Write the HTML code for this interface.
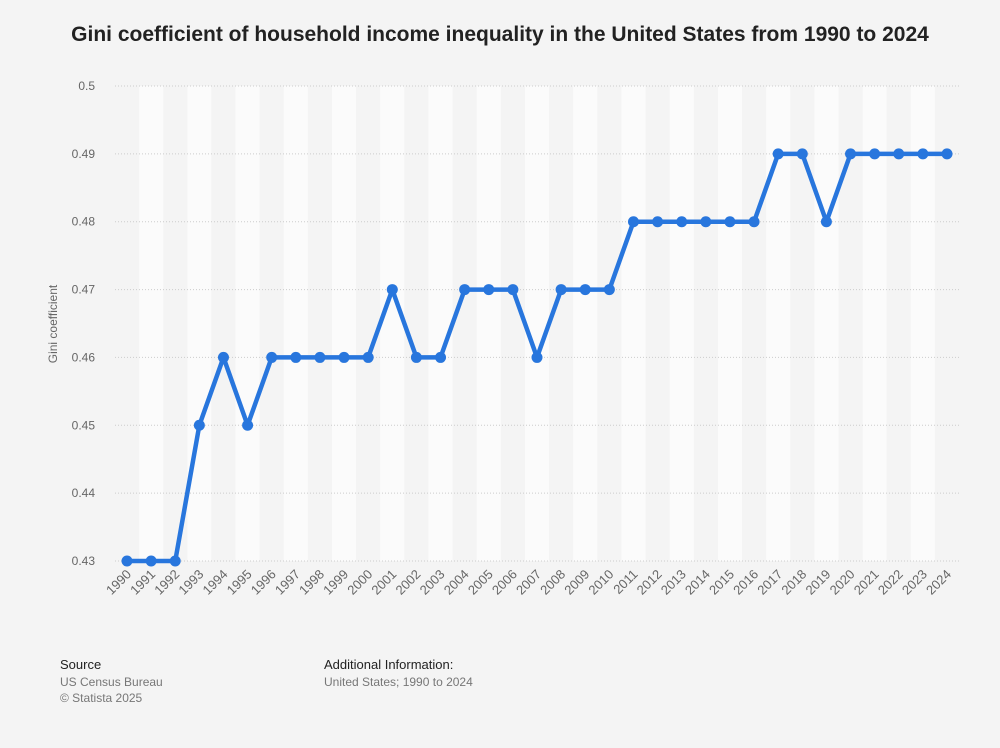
<!DOCTYPE html>
<html><head><meta charset="utf-8"><style>
body{margin:0;background:#f4f4f4;font-family:"Liberation Sans",sans-serif;}
#wrap{position:relative;width:1000px;height:743px;background:#f4f4f4;}
</style></head><body>
<div id="wrap">
<svg id="chart" width="1000" height="743">
<text x="500" y="41" text-anchor="middle" font-size="21" font-weight="bold" fill="#222">Gini coefficient of household income inequality in the United States from 1990 to 2024</text>
<text transform="translate(57,324) rotate(-90)" text-anchor="middle" font-size="12" fill="#666">Gini coefficient</text>
<g id="bands"></g><g id="grid"></g><g id="xt"></g><g id="series"></g>
<text x="60" y="669" font-size="13" fill="#222">Source</text>
<text x="60" y="686" font-size="12" fill="#777">US Census Bureau</text>
<text x="60" y="702" font-size="12" fill="#777">© Statista 2025</text>
<text x="324" y="669" font-size="13" fill="#222">Additional Information:</text>
<text x="324" y="686" font-size="12" fill="#777">United States; 1990 to 2024</text>
</svg></div>
<script>
const years=[1990,1991,1992,1993,1994,1995,1996,1997,1998,1999,2000,2001,2002,2003,2004,2005,2006,2007,2008,2009,2010,2011,2012,2013,2014,2015,2016,2017,2018,2019,2020,2021,2022,2023,2024];
const gini=[0.43,0.43,0.43,0.45,0.46,0.45,0.46,0.46,0.46,0.46,0.46,0.47,0.46,0.46,0.47,0.47,0.47,0.46,0.47,0.47,0.47,0.48,0.48,0.48,0.48,0.48,0.48,0.49,0.49,0.48,0.49,0.49,0.49,0.49,0.49];
const yTicks=[0.43,0.44,0.45,0.46,0.47,0.48,0.49,0.5];
const NS="http://www.w3.org/2000/svg";
const x0=127,x1=947,step=(x1-x0)/(years.length-1);
const xs=i=>x0+i*step;
const ys=v=>561-(v-0.43)/(0.5-0.43)*475;
function mk(t,a,p){const e=document.createElementNS(NS,t);for(const k in a)e.setAttribute(k,a[k]);p.appendChild(e);return e;}
const bands=document.getElementById('bands'),grid=document.getElementById('grid'),xt=document.getElementById('xt'),ser=document.getElementById('series');
years.forEach((y,i)=>{if(i%2===1){const r=mk('rect',{x:xs(i)-step/2,y:86,width:step,height:475,fill:'#fbfbfb'},bands);

}
const t=mk('text',{transform:`translate(${xs(i)+5},${575}) rotate(-45)`,'text-anchor':'end','font-size':13,fill:'#666'},xt);t.textContent=y;

});
yTicks.forEach(v=>{const l=mk('line',{x1:115,x2:960,y1:ys(v),y2:ys(v),stroke:'#ccc','stroke-dasharray':'1,2'},grid);


const t=mk('text',{x:95,y:ys(v)+4,'text-anchor':'end','font-size':12,fill:'#666'},grid);t.textContent=String(v);

});
const p=mk('polyline',{points:gini.map((v,i)=>xs(i)+','+ys(v)).join(' '),fill:'none',stroke:'#2876dd','stroke-width':4.5,'stroke-linejoin':'round'},ser);


gini.forEach((v,i)=>{const c=mk('circle',{cx:xs(i),cy:ys(v),r:5.5,fill:'#2876dd'},ser);

});
</script></body></html>
